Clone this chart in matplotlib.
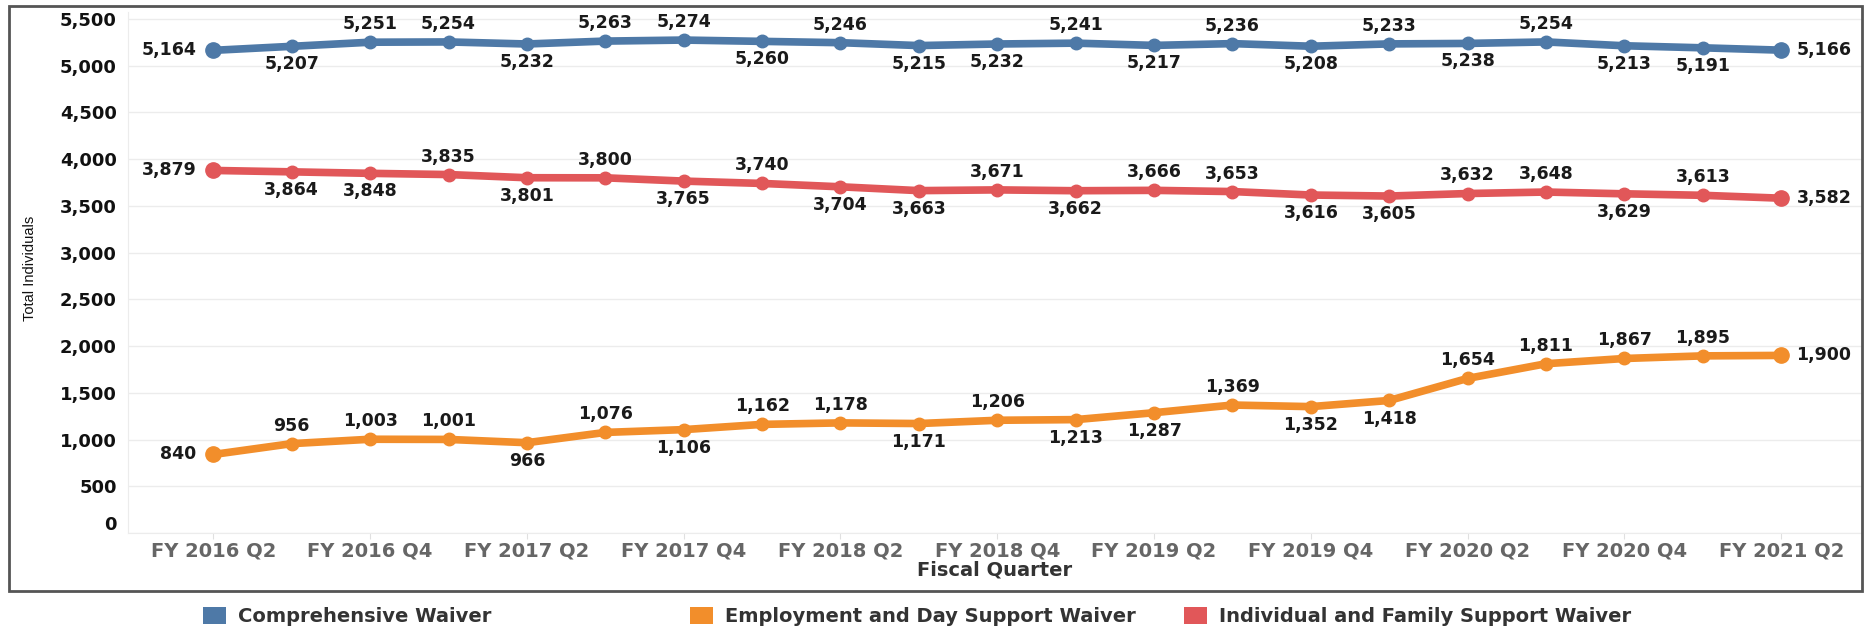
import matplotlib.pyplot as plt
import matplotlib.transforms as mtransforms
from matplotlib import font_manager
from matplotlib.patches import Rectangle

quarters = ['FY 2016 Q2', 'FY 2016 Q3', 'FY 2016 Q4', 'FY 2017 Q1', 'FY 2017 Q2', 'FY 2017 Q3',
            'FY 2017 Q4', 'FY 2018 Q1', 'FY 2018 Q2', 'FY 2018 Q3', 'FY 2018 Q4', 'FY 2019 Q1',
            'FY 2019 Q2', 'FY 2019 Q3', 'FY 2019 Q4', 'FY 2020 Q1', 'FY 2020 Q2', 'FY 2020 Q3',
            'FY 2020 Q4', 'FY 2021 Q1', 'FY 2021 Q2']

comprehensive = [5164, 5207, 5251, 5254, 5232, 5263, 5274, 5260, 5246, 5215, 5232,
                 5241, 5217, 5236, 5208, 5233, 5238, 5254, 5213, 5191, 5166]
employment = [840, 956, 1003, 1001, 966, 1076, 1106, 1162, 1178, 1171, 1206,
              1213, 1287, 1369, 1352, 1418, 1654, 1811, 1867, 1895, 1900]
individual = [3879, 3864, 3848, 3835, 3801, 3800, 3765, 3740, 3704, 3663, 3671,
              3662, 3666, 3653, 3616, 3605, 3632, 3648, 3629, 3613, 3582]

# label side for each point: 'u' above, 'd' below, 'l' left, 'r' right
comp_pos = 'lduuduudu' + 'ddudud' + 'udud' + 'dr'
emp_pos = 'luuududuudu' + 'ddudd' + 'uuuur'
ind_pos = 'lddudududd' + 'uduu' + 'dduudur'

series = [
    ('Comprehensive Waiver', comprehensive, comp_pos, '#4e79a7'),
    ('Employment and Day Support Waiver', employment, emp_pos, '#f28e2b'),
    ('Individual and Family Support Waiver', individual, ind_pos, '#e15759'),
]

plt.rcParams['font.family'] = ['DejaVu Sans']

fig = plt.figure(figsize=(18.7, 6.28), dpi=100)
ax = fig.add_axes([0.0684, 0.1513, 0.9273, 0.8297])

x = list(range(len(quarters)))
for name, vals, pos, color in series:
    ax.plot(x, vals, color=color, linewidth=5.5, marker='o', markersize=9,
            solid_capstyle='round', zorder=3)
    ax.plot([x[0], x[-1]], [vals[0], vals[-1]], 'o', color=color, markersize=11, zorder=4)
    for xi, v, p in zip(x, vals, pos):
        if p == 'u':
            off, ha = (0, 13), 'center'
        elif p == 'd':
            off, ha = (0, -13), 'center'
        elif p == 'l':
            off, ha = (-12, 0), 'right'
        else:
            off, ha = (11, 0), 'left'
        ax.annotate(f'{v:,}', (xi, v), xytext=off, textcoords='offset points',
                    ha=ha, va='center', fontsize=12.5, fontweight='bold', color='#1a1a1a', zorder=5)

ax.set_xlim(-1.09, 21.03)
ax.set_ylim(0, 5575)
ax.set_yticks(range(0, 5501, 500))
ax.set_yticklabels([f'{t:,}' for t in range(0, 5501, 500)])
ax.set_xticks(x[::2])
ax.set_xticklabels(quarters[::2])

ax.grid(axis='y', color='#ececec', linewidth=1)
ax.set_axisbelow(True)
for s in ['top', 'right']:
    ax.spines[s].set_visible(False)
ax.spines['left'].set_color('#ececec')
ax.spines['bottom'].set_color('#ececec')

ax.tick_params(axis='y', length=0, pad=8, labelsize=13, labelcolor='#111111')
ax.tick_params(axis='x', length=4, color='#e0e0e0', pad=2, labelsize=14, labelcolor='#666666')
for lab in ax.get_yticklabels() + ax.get_xticklabels():
    lab.set_fontweight('bold')
zero = ax.get_yticklabels()[0]
zero.set_transform(zero.get_transform() + mtransforms.ScaledTranslation(0, 10 / 100, fig.dpi_scale_trans))

# narrow font for the y title if one is there
ytitle_font, ytitle_size = 'Liberation Sans', 10.5
for fam, size in [('Liberation Sans Narrow', 12.5), ('DejaVu Sans Condensed', 11)]:
    try:
        font_manager.findfont(fam, fallback_to_default=False)
        ytitle_font, ytitle_size = fam, size
        break
    except ValueError:
        pass
fig.text(0.016, 0.573, 'Total Individuals', rotation=90, ha='center', va='center',
         fontsize=ytitle_size, color='#111111', family=ytitle_font)
fig.text(0.532, 0.092, 'Fiscal Quarter', ha='center', va='center',
         fontsize=14, fontweight='bold', color='#333333')

# outer frame
fig.patches.append(Rectangle((9 / 1870, 1 - 591 / 628), (1862 - 9) / 1870, (591 - 6) / 628,
                             transform=fig.transFigure, fill=False, edgecolor='#555555',
                             linewidth=2))

# legend below the frame
leg_x = [203, 690, 1184]
for (name, vals, pos, color), lx in zip(series, leg_x):
    fig.patches.append(Rectangle((lx / 1870, 1 - 624 / 628), 23 / 1870, 17 / 628,
                                 transform=fig.transFigure, facecolor=color, edgecolor='none'))
    fig.text((lx + 35) / 1870, 1 - 616 / 628, name, ha='left', va='center',
             fontsize=14, fontweight='bold', color='#333333')

fig.savefig('out.png', dpi=100)
